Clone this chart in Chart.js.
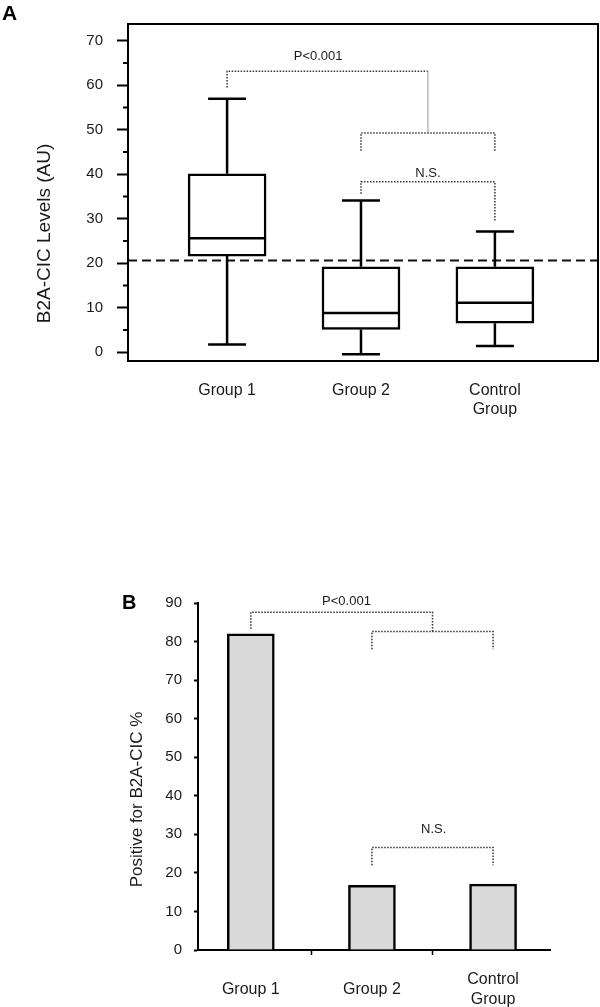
<!DOCTYPE html>
<html>
<head>
<meta charset="utf-8">
<script src="https://cdn.jsdelivr.net/npm/chart.js@4"></script>
<style>
  body { margin: 0; background: #fff; width: 600px; height: 1007px; position: relative; overflow: hidden;
         font-family: "Liberation Sans", Arial, sans-serif; }
  .panel { position: absolute; left: 0; width: 600px; }
  #wrapA { top: 0; height: 440px; }
  #wrapB { top: 520px; height: 487px; }
  .tag { position: absolute; font-weight: bold; line-height: 1; color: #000; z-index: 2; }
</style>
</head>
<body>
<div class="tag" style="left:2px;top:2px;font-size:21px">A</div>
<div class="tag" style="left:122px;top:592px;font-size:20px">B</div>
<div class="panel" id="wrapA"><canvas id="boxChart"></canvas></div>
<div class="panel" id="wrapB"><canvas id="barChart"></canvas></div>

<script>
const groups = ['Group 1', 'Group 2', ['Control', 'Group']];

// Panel A - box plot of B2A-CIC levels
const whiskerLow = [1.7, -0.5, 1.4];
const q1 = [21.6, 5.1, 6.5];
const median = [25.6, 8.8, 11.1];
const q3 = [40.1, 19.2, 19.2];
const whiskerHigh = [57.0, 34.1, 27.1];
const cutoff = 20.6;
const ticksA = [0, 10, 20, 30, 40, 50, 60, 70];
const minorTicksA = [5, 15, 25, 35, 45, 55, 65];

// Panel B - percent positive
const positivePct = [82, 16.8, 17.1];
const ticksB = [0, 10, 20, 30, 40, 50, 60, 70, 80, 90];

// significance brackets (data units)
const bracketsA = [
  { from: 1, to: 2.5, y: 63.2, end1: 59.5, end2: 49.3, label: 'P<0.001', lx: 1.68, ly: 66.5, solidRight: true },
  { from: 2, to: 3, y: 49.3, end1: 45.3, end2: 45.3 },
  { from: 2, to: 3, y: 38.3, end1: 35.6, end2: 29.3, label: 'N.S.', lx: 2.5, ly: 40.3 }
];
const bracketsB = [
  { from: 1, to: 2.5, y: 87.6, end1: 83.3, end2: 82.6, label: 'P<0.001', lx: 1.79, ly: 90.3 },
  { from: 2, to: 3, y: 82.6, end1: 78, end2: 78 },
  { from: 2, to: 3, y: 26.6, end1: 22, end2: 22, label: 'N.S.', lx: 2.51, ly: 31.4 }
];

Chart.defaults.font.family = '"Liberation Sans", Arial, sans-serif';
Chart.defaults.color = '#1a1a1a';

function drawBracket(chart, b) {
  const ctx = chart.ctx, xs = chart.scales.x, ys = chart.scales.y;
  const x1 = xs.getPixelForValue(b.from), x2 = xs.getPixelForValue(b.to);
  const y = ys.getPixelForValue(b.y);
  ctx.save();
  ctx.strokeStyle = '#333';
  ctx.lineWidth = 1.5;
  ctx.setLineDash([1.5, 1.5]);
  ctx.beginPath();
  ctx.moveTo(x1, ys.getPixelForValue(b.end1));
  ctx.lineTo(x1, y);
  ctx.lineTo(x2, y);
  if (!b.solidRight) ctx.lineTo(x2, ys.getPixelForValue(b.end2));
  ctx.stroke();
  if (b.solidRight) {
    ctx.setLineDash([]);
    ctx.strokeStyle = '#999';
    ctx.lineWidth = 1;
    ctx.beginPath();
    ctx.moveTo(x2, y);
    ctx.lineTo(x2, ys.getPixelForValue(b.end2));
    ctx.stroke();
  }
  if (b.label) {
    ctx.fillStyle = '#1a1a1a';
    ctx.font = '13px "Liberation Sans", Arial, sans-serif';
    ctx.textAlign = 'center';
    ctx.textBaseline = 'middle';
    ctx.fillText(b.label, xs.getPixelForValue(b.lx), ys.getPixelForValue(b.ly));
  }
  ctx.restore();
}

function drawYTitle(chart, text, size, dx, dy) {
  const ctx = chart.ctx, a = chart.chartArea;
  ctx.save();
  ctx.translate(a.left - dx, (a.top + a.bottom) / 2 + dy);
  ctx.rotate(-Math.PI / 2);
  ctx.fillStyle = '#1a1a1a';
  ctx.font = size + 'px "Liberation Sans", Arial, sans-serif';
  ctx.textAlign = 'center';
  ctx.textBaseline = 'middle';
  ctx.fillText(text, 0, 0);
  ctx.restore();
}

const boxExtras = {
  id: 'boxExtras',
  beforeDatasetsDraw(chart) {
    const ctx = chart.ctx, a = chart.chartArea, ys = chart.scales.y;
    const y = ys.getPixelForValue(cutoff);
    ctx.save();
    ctx.strokeStyle = '#111';
    ctx.lineWidth = 2;
    ctx.setLineDash([9, 5]);
    ctx.beginPath();
    ctx.moveTo(a.left, y);
    ctx.lineTo(a.right, y);
    ctx.stroke();
    ctx.restore();
  },
  afterDatasetsDraw(chart) {
    const ctx = chart.ctx, xs = chart.scales.x, ys = chart.scales.y;
    const half = chart.data.datasets[0].barThickness / 2;
    ctx.save();
    ctx.strokeStyle = '#000';
    ctx.lineWidth = 2.5;
    groups.forEach((g, i) => {
      const x = xs.getPixelForValue(i + 1);
      const cap = 19;
      ctx.beginPath();
      ctx.moveTo(x, ys.getPixelForValue(q3[i]));
      ctx.lineTo(x, ys.getPixelForValue(whiskerHigh[i]));
      ctx.moveTo(x - cap, ys.getPixelForValue(whiskerHigh[i]));
      ctx.lineTo(x + cap, ys.getPixelForValue(whiskerHigh[i]));
      ctx.moveTo(x, ys.getPixelForValue(q1[i]));
      ctx.lineTo(x, ys.getPixelForValue(whiskerLow[i]));
      ctx.moveTo(x - cap, ys.getPixelForValue(whiskerLow[i]));
      ctx.lineTo(x + cap, ys.getPixelForValue(whiskerLow[i]));
      ctx.moveTo(x - half, ys.getPixelForValue(median[i]));
      ctx.lineTo(x + half, ys.getPixelForValue(median[i]));
      ctx.stroke();
    });
    ctx.restore();
  },
  afterDraw(chart) {
    const ctx = chart.ctx, a = chart.chartArea, ys = chart.scales.y;
    ctx.save();
    ctx.strokeStyle = '#000';
    ctx.lineWidth = 2;
    ctx.strokeRect(a.left, a.top, a.right - a.left, a.bottom - a.top);
    ctx.beginPath();
    minorTicksA.forEach(v => {
      const y = ys.getPixelForValue(v);
      ctx.moveTo(a.left - 5, y);
      ctx.lineTo(a.left, y);
    });
    ctx.stroke();
    ctx.restore();
    bracketsA.forEach(b => drawBracket(chart, b));
    drawYTitle(chart, 'B2A-CIC Levels (AU)', 19, 83, 41);
  }
};

const barExtras = {
  id: 'barExtras',
  afterDraw(chart) {
    bracketsB.forEach(b => drawBracket(chart, b));
    drawYTitle(chart, 'Positive for B2A-CIC %', 17, 61, 23);
  }
};

function renderCharts() {
  const boxCtx = document.getElementById('boxChart').getContext('2d');
  const barCtx = document.getElementById('barChart').getContext('2d');

  new Chart(boxCtx, {
    type: 'bar',
    data: {
      datasets: [{
        data: groups.map((g, i) => ({ x: i + 1, y: [q1[i], q3[i]] })),
        backgroundColor: '#fff',
        borderColor: '#000',
        borderWidth: 2.5,
        borderSkipped: false,
        barThickness: 78
      }]
    },
    options: {
      responsive: true,
      maintainAspectRatio: false,
      animation: false,
      layout: { padding: { top: 24, right: 2, left: 0, bottom: 0 } },
      plugins: { legend: { display: false }, tooltip: { enabled: false } },
      scales: {
        x: {
          type: 'linear', min: 0.26, max: 3.77, offset: false,
          afterBuildTicks: s => { s.ticks = groups.map((g, i) => ({ value: i + 1 })); },
          ticks: { callback: v => groups[v - 1], font: { size: 16 }, padding: 20, maxRotation: 0, autoSkip: false },
          grid: { display: false, drawTicks: false },
          border: { display: false },
          afterFit: s => { s.height = 79; }
        },
        y: {
          min: -2, max: 73.8,
          afterBuildTicks: s => { s.ticks = ticksA.map(v => ({ value: v })); },
          ticks: { font: { size: 15 }, padding: 14 },
          grid: { drawOnChartArea: false, tickLength: 11, tickWidth: 2, tickColor: '#000' },
          border: { display: false },
          afterFit: s => { s.width = 128; }
        }
      }
    },
    plugins: [boxExtras]
  });

  new Chart(barCtx, {
    type: 'bar',
    data: {
      datasets: [{
        data: groups.map((g, i) => ({ x: i + 1, y: positivePct[i] })),
        backgroundColor: '#d9d9d9',
        borderColor: '#000',
        borderWidth: 2.5,
        barThickness: 47
      }]
    },
    options: {
      responsive: true,
      maintainAspectRatio: false,
      animation: false,
      layout: { padding: { top: 83, right: 50, left: 0, bottom: 0 } },
      plugins: { legend: { display: false }, tooltip: { enabled: false } },
      scales: {
        x: {
          type: 'linear', min: 0.564, max: 3.47, offset: false,
          afterBuildTicks: s => { s.ticks = [1, 1.5, 2, 2.5, 3].map(v => ({ value: v })); },
          ticks: {
            callback: v => Number.isInteger(v) ? groups[v - 1] : '',
            font: { size: 16 }, padding: 25, crossAlign: 'center', maxRotation: 0, autoSkip: false
          },
          grid: {
            offset: false, drawOnChartArea: false, tickLength: 5, tickWidth: 1.5,
            tickColor: c => (c.tick && Number.isInteger(c.tick.value)) ? 'rgba(0,0,0,0)' : '#000'
          },
          border: { color: '#000', width: 2 },
          afterFit: s => { s.height = 57; }
        },
        y: {
          min: 0, max: 90,
          afterBuildTicks: s => { s.ticks = ticksB.map(v => ({ value: v })); },
          ticks: { font: { size: 15 }, padding: 12 },
          grid: { drawOnChartArea: false, tickLength: 4, tickWidth: 2, tickColor: '#000' },
          border: { color: '#000', width: 2 },
          afterFit: s => { s.width = 198; }
        }
      }
    },
    plugins: [barExtras]
  });
}

document.addEventListener('DOMContentLoaded', renderCharts);
</script>
</body>
</html>
